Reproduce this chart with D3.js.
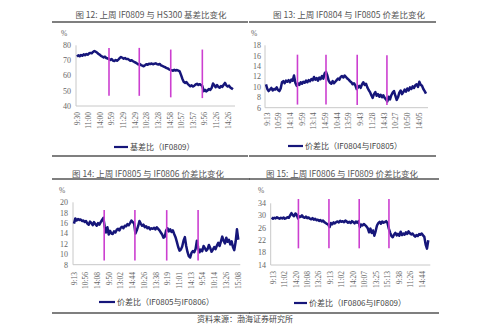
<!DOCTYPE html>
<html><head><meta charset="utf-8">
<script src="https://cdn.jsdelivr.net/npm/d3@7"></script>
<style>body{margin:0;background:#fff}svg{display:block}</style>
</head><body><svg id="c" width="499" height="333"></svg>
<script>
// ---------- data ----------
const titles = [
  "图 12:  上周 IF0809 与 HS300 基差比变化",
  "图 13:  上周 IF0804 与 IF0805 价差比变化",
  "图 14:  上周 IF0805 与 IF0806 价差比变化",
  "图 15:  上周 IF0806 与 IF0809 价差比变化"
];
const legendLabels = [
  "基差比（IF0809）",
  "价差比（IF0804与IF0805）",
  "价差比（IF0805与IF0806）",
  "价差比（IF0806与IF0809）"
];
const sourceText = "资料来源：渤海证券研究所";

const xLabels12 = ["9:30","11:00","14:00","9:59","11:29","14:29","10:28","13:28","14:58","10:57","13:57","9:56","11:26","14:26"];
const xLabels13 = ["9:13","10:59","14:14","9:59","13:14","14:59","10:44","13:59","9:43","11:28","14:43","10:27","10:50","14:05"];
const xLabels14 = ["9:13","10:56","14:08","9:50","13:02","14:44","10:26","13:38","9:19","11:01","14:13","9:54","10:14","13:26","15:08"];
const xLabels15 = ["9:13","11:02","14:20","10:08","13:26","9:13","11:02","14:20","10:07","13:25","15:13","9:38","11:26","14:44"];

const yTicks12 = [40,50,60,70,80];
const yTicks13 = [6,8,10,12,14,16,18];
const yTicks14 = [8,10,12,14,16,18,20];
const yTicks15 = [14,18,22,26,30,34];

const values12 = [
  72.5,73.4,72.8,73.6,73.1,74.0,73.5,74.2,73.8,74.6,75.0,74.7,75.6,76.2,75.8,75.2,74.4,73.9,73.0,72.6,72.0,72.5,71.6,71.3,
  71.0,70.4,70.9,69.9,69.6,70.3,69.8,70.6,71.5,72.3,71.8,71.2,71.6,70.9,71.0,70.5,69.8,70.2,69.5,69.0,68.6,68.0,67.4,
  67.8,67.0,66.6,66.2,66.8,67.5,67.2,67.9,67.6,68.0,67.5,67.9,68.1,67.6,67.3,67.7,66.8,66.4,66.0,65.6,65.0,64.8,64.2,63.8,
  63.6,63.2,63.8,63.4,63.7,63.3,62.8,60.5,58.0,56.0,55.2,55.8,54.6,53.8,53.0,53.6,52.8,53.4,54.2,54.6,53.9,54.4,53.8,53.2,
  49.8,50.6,49.6,50.4,51.2,50.6,52.0,54.8,53.6,52.4,53.8,52.6,52.0,53.2,52.6,54.0,55.2,53.6,52.8,53.4,52.2,51.6,51.0
];
const values13 = [
  10.5,9.6,9.2,9.5,9.8,9.3,9.6,9.5,9.9,9.4,9.2,9.7,10.9,11.1,10.7,11.2,11.0,11.3,10.9,11.4,11.2,12.2,10.8,10.2,
  10.7,10.4,10.9,10.6,11.0,10.8,11.2,10.9,11.3,11.1,11.5,11.3,11.9,11.4,11.7,11.2,11.8,11.5,12.1,11.6,12.6,
  12.9,12.2,11.2,10.8,10.6,11.1,10.7,11.0,11.3,11.6,11.4,11.9,12.1,11.8,12.2,11.9,11.6,11.4,11.1,10.9,10.5,10.7,10.3,
  9.6,9.9,10.2,9.8,10.5,10.9,10.4,10.6,9.9,9.4,9.0,8.4,7.9,8.6,9.0,8.3,8.6,8.1,8.5,8.0,8.4,7.9,7.6,
  7.2,8.1,7.6,8.4,8.9,9.2,8.3,7.5,8.0,8.9,9.3,8.6,9.0,9.5,9.1,9.7,9.3,9.9,9.6,10.1,9.8,10.3,10.5,10.0,11.0,10.4,10.2,9.6,9.2,8.7
];
const values14 = [
  15.9,16.9,16.5,16.8,16.6,16.7,16.4,16.5,16.2,16.4,15.9,15.7,16.3,16.0,15.6,16.2,15.8,15.5,16.0,15.7,16.2,16.6,17.0,
  15.3,14.2,15.2,13.8,14.5,14.0,13.9,14.4,14.2,14.7,14.9,14.6,15.1,15.3,15.0,15.5,15.4,15.8,15.6,16.0,16.5,16.2,15.9,
  14.0,14.6,15.4,16.4,15.9,15.5,15.7,15.2,15.4,15.0,15.2,14.8,15.0,14.9,15.1,14.8,15.2,14.9,14.6,14.2,13.8,13.2,13.4,14.6,
  15.0,14.4,14.8,14.3,14.6,13.9,13.3,12.4,11.4,10.7,10.9,11.5,12.6,13.3,11.6,10.4,9.6,9.4,10.3,10.6,10.4,11.0,12.6,
  11.2,10.4,10.9,10.6,11.6,11.2,10.7,11.0,11.8,11.2,10.5,10.9,11.4,11.0,11.7,12.2,11.6,12.5,13.4,12.6,12.1,13.2,12.4,12.8,11.9,12.5,11.4,10.8,12.4,14.8,12.8
];
const values15 = [
  29.4,29.0,29.3,29.1,29.5,29.2,29.0,29.3,29.1,29.4,29.0,29.2,29.5,29.3,30.1,30.8,30.2,29.8,30.7,30.3,29.1,
  29.8,29.6,30.1,29.5,29.3,29.7,29.2,29.4,29.0,28.8,29.2,28.7,29.0,28.5,28.7,28.3,28.6,28.1,28.4,27.9,27.6,27.3,27.1,
  26.3,27.6,27.2,27.8,27.5,27.9,28.1,27.8,28.3,28.0,28.2,27.9,28.4,28.1,27.7,28.0,27.6,28.2,27.9,27.5,28.1,27.7,28.2,
  26.3,27.1,26.8,27.3,26.9,26.5,25.9,24.6,25.8,24.4,25.2,23.5,25.0,26.8,27.6,28.0,27.4,28.1,27.7,27.9,28.2,27.6,25.8,
  24.5,23.4,23.0,23.9,24.4,23.6,24.1,23.5,24.8,23.7,24.2,23.8,24.6,24.1,24.9,24.3,23.9,24.2,23.6,23.2,23.7,23.4,24.0,23.8,24.2,23.6,23.1,20.6,19.3,22.0
];

// day boundaries (data index) and magenta marker value ranges
const breaks12 = [24, 46.7, 70.3, 94];
const breaks13 = [23.6, 45, 68.4, 90.7];
const breaks14 = [22.6, 45.6, 69.4, 92.9];
const breaks15 = [20.3, 43.5, 66.5, 89.1];
const markers12 = [[46.7,78.3],[46.7,78.3],[45.7,77.2],[45.2,77.2]];
const markers13 = [[6.6,16.2],[6.6,16.2],[6.5,16.2],[6.5,16.1]];
const markers14 = [[8.8,18.5],[8.8,18.5],[8.8,18.5],[8.8,18.5]];
const markers15 = [[19.4,35.4],[19.4,35.4],[19.4,35.4],[19.4,35.4]];

// ---------- layout ----------
const panels = [
  {title:titles[0], values:values12, breaks:breaks12, markers:markers12, yTicks:yTicks12, xLabels:xLabels12, legend:legendLabels[0],
   tx:151, ty:18, rule:[52,248], ruleTop:22, ruleBot:156,
   x0:77, x1:233, yDom:[40,80], yRng:[106,45.3], yLabX:71, pctX:64, pctY:33,
   xl:[77,228], xlTop:112, lg:[114,128,147]},
  {title:titles[1], values:values13, breaks:breaks13, markers:markers13, yTicks:yTicks13, xLabels:xLabels13, legend:legendLabels[1],
   tx:349, ty:18, rule:[249,436], ruleTop:22, ruleBot:156,
   x0:266, x1:426, yDom:[6,18], yRng:[107.7,45.3], yLabX:261, pctX:254, pctY:33,
   xl:[267,419], xlTop:112.5, lg:[288,303,146]},
  {title:titles[2], values:values14, breaks:breaks14, markers:markers14, yTicks:yTicks14, xLabels:xLabels14, legend:legendLabels[2],
   tx:148, ty:177, rule:[52,250], ruleTop:179, ruleBot:313,
   x0:74, x1:238.3, yDom:[8,20], yRng:[264.7,202.3], yLabX:68, pctX:62, pctY:190,
   xl:[74,238], xlTop:272, lg:[99,115,302]},
  {title:titles[3], values:values15, breaks:breaks15, markers:markers15, yTicks:yTicks15, xLabels:xLabels15, legend:legendLabels[3],
   tx:342, ty:177, rule:[249,439], ruleTop:179, ruleBot:313,
   x0:271.7, x1:428.3, yDom:[14,34], yRng:[265,203.3], yLabX:266, pctX:261, pctY:190,
   xl:[273,422], xlTop:271, lg:[294,307,303]}
];

const svg = d3.select("#c");
svg.append("rect").attr("width",499).attr("height",333).attr("fill","#fff");
const serif = "'Liberation Serif','DejaVu Serif',serif";
const cjk = "'Noto Sans CJK SC','Noto Sans',sans-serif";
const navy = "#16167a", magenta = "#cc3fd0", gray = "#666";

panels.forEach(p => {
  const g = svg.append("g");
  g.append("text").attr("x",p.tx).attr("y",p.ty).attr("text-anchor","middle")
    .attr("font-family",cjk).attr("font-size",8.5).attr("fill","#555").text(p.title);
  g.append("line").attr("x1",p.rule[0]).attr("x2",p.rule[1]).attr("y1",p.ruleTop).attr("y2",p.ruleTop)
    .attr("stroke","#555").attr("stroke-width",1.6);
  g.append("line").attr("x1",p.rule[0]).attr("x2",p.rule[1]).attr("y1",p.ruleBot).attr("y2",p.ruleBot)
    .attr("stroke","#555").attr("stroke-width",1.6);

  const x = d3.scaleLinear().domain([0,p.values.length-1]).range([p.x0,p.x1]);
  const y = d3.scaleLinear().domain(p.yDom).range(p.yRng);

  g.append("line").attr("x1",p.x0-1).attr("x2",p.x0-1).attr("y1",y(p.yDom[1])).attr("y2",y(p.yDom[0]))
    .attr("stroke","#c8c8c8").attr("stroke-width",1);
  g.append("line").attr("x1",p.x0-1).attr("x2",p.x1+2).attr("y1",y(p.yDom[0])).attr("y2",y(p.yDom[0]))
    .attr("stroke","#c8c8c8").attr("stroke-width",1);

  g.selectAll(".yt").data(p.yTicks).enter().append("text")
    .attr("x",p.yLabX).attr("y",d=>y(d)).attr("dy","0.35em").attr("text-anchor","end")
    .attr("font-family",serif).attr("font-size",8).attr("fill",gray).text(d=>d);
  g.append("text").attr("x",p.pctX).attr("y",p.pctY).attr("dy","0.35em").attr("text-anchor","middle")
    .attr("font-family",serif).attr("font-size",7.5).attr("fill",gray).text("%");

  const xp = d3.scalePoint().domain(d3.range(p.xLabels.length)).range(p.xl);
  g.selectAll(".xt").data(p.xLabels).enter().append("text")
    .attr("transform",(d,i)=>`translate(${xp(i)},${p.xlTop}) rotate(-90)`)
    .attr("text-anchor","end").attr("dy","0.35em")
    .attr("font-family",serif).attr("font-size",7.5).attr("fill",gray).text(d=>d);

  const line = d3.line().x((d,i)=>x(i)).y(d=>y(d));
  g.append("path").datum(p.values).attr("d",line).attr("fill","none")
    .attr("stroke",navy).attr("stroke-width",2.5).attr("stroke-linejoin","round");

  g.selectAll(".mk").data(p.breaks).enter().append("line")
    .attr("x1",d=>x(d)).attr("x2",d=>x(d))
    .attr("y1",(d,i)=>y(p.markers[i][0])).attr("y2",(d,i)=>y(p.markers[i][1]))
    .attr("stroke",magenta).attr("stroke-width",1.6);

  g.append("line").attr("x1",p.lg[0]).attr("x2",p.lg[1]).attr("y1",p.lg[2]).attr("y2",p.lg[2])
    .attr("stroke",navy).attr("stroke-width",2.2);
  g.append("text").attr("x",p.lg[1]+2).attr("y",p.lg[2]).attr("dy","0.35em")
    .attr("font-family",cjk).attr("font-size",8).attr("fill","#444").text(p.legend);
});

svg.append("text").attr("x",245).attr("y",319).attr("dy","0.35em").attr("text-anchor","middle")
  .attr("font-family",cjk).attr("font-size",8).attr("fill","#444").text(sourceText);
</script>
</body></html>
